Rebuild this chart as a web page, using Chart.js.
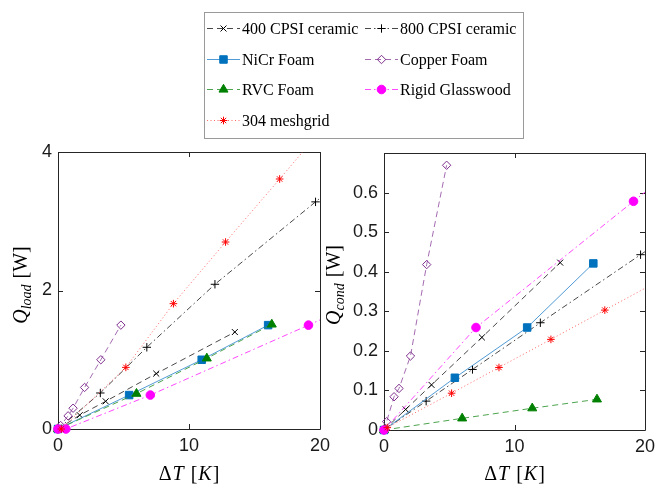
<!DOCTYPE html>
<html>
<head>
<meta charset="utf-8">
<script src="https://cdn.jsdelivr.net/npm/chart.js@4.4.1/dist/chart.umd.min.js"></script>
<style>
  html, body { margin: 0; padding: 0; background: #fff; }
  #wrap { position: relative; width: 664px; height: 485px; }
  #wrap canvas { position: absolute; left: 0; top: 0; }
</style>
</head>
<body>
<div id="wrap">
  <canvas id="loadChart" width="664" height="485"></canvas>
  <canvas id="condChart" width="664" height="485"></canvas>
</div>
<script>
// ---- data (ΔT in K, Q in W)
const DT_400 = [0, 1.66, 3.64, 7.5, 13.5];
const LOAD_400 = [0, 0.20, 0.40, 0.80, 1.40];
const COND_400 = [0, 0.052, 0.114, 0.234, 0.423];

const DT_800 = [0, 3.23, 6.78, 11.98, 19.66, 23];
const LOAD_800 = [0, 0.52, 1.18, 2.09, 3.28, 3.80];
const COND_800 = [0, 0.073, 0.153, 0.271, 0.443, 0.518];

const DT_NICR = [0, 5.43, 10.97, 16.04];
const LOAD_NICR = [0, 0.49, 1.00, 1.50];
const COND_NICR = [0, 0.132, 0.259, 0.421];

const DT_COPPER = [0, 0.2, 0.77, 1.15, 2.03, 3.27, 4.8];
const LOAD_COPPER = [0, 0.05, 0.19, 0.30, 0.60, 1.00, 1.50];
const COND_COPPER = [0, 0.021, 0.084, 0.105, 0.187, 0.418, 0.669];

const DT_RVC = [0, 5.99, 11.36, 16.32];
const LOAD_RVC = [0, 0.51, 1.02, 1.51];
const COND_RVC = [0, 0.0295, 0.055, 0.0775];

const DT_GLASS = [0, 0.6, 7.05, 19.12, 23];
const LOAD_GLASS = [0, 0, 0.49, 1.50, 1.83];
const COND_GLASS = [0, null, 0.259, 0.578, 0.679];

const DT_MESH = [0.25, 5.18, 8.81, 12.79, 16.92, 21];
const LOAD_MESH = [0, 0.89, 1.81, 2.70, 3.61, 4.52];
const COND_MESH = [0.006, 0.093, 0.158, 0.229, 0.303, 0.376];

const X_TICKS = [0, 10, 20];
const LOAD_TICKS = [0, 2, 4];
const COND_TICKS = [0, 0.1, 0.2, 0.3, 0.4, 0.5, 0.6];

const SERIES = [
  { label: '400 CPSI ceramic', dT: DT_400, load: LOAD_400, cond: COND_400 },
  { label: '800 CPSI ceramic', dT: DT_800, load: LOAD_800, cond: COND_800 },
  { label: 'NiCr Foam', dT: DT_NICR, load: LOAD_NICR, cond: COND_NICR },
  { label: 'Copper Foam', dT: DT_COPPER, load: LOAD_COPPER, cond: COND_COPPER },
  { label: 'RVC Foam', dT: DT_RVC, load: LOAD_RVC, cond: COND_RVC },
  { label: 'Rigid Glasswood', dT: DT_GLASS, load: LOAD_GLASS, cond: COND_GLASS },
  { label: '304 meshgrid', dT: DT_MESH, load: LOAD_MESH, cond: COND_MESH }
];

// ---- styles (MATLAB-ish)
const STYLES = [
  { line: 'rgba(0,0,0,0.8)', mark: '#000', dash: [6, 4], style: 'crossRot', r: 4.2, fill: false },
  { line: 'rgba(0,0,0,0.8)', mark: '#000', dash: [6, 3, 1.5, 3], style: 'cross', r: 4.2, fill: false },
  { line: '#3d8fd0', mark: '#0072BD', dash: [], style: 'rect', r: 5.3, fill: true },
  { line: '#9a5aa8', mark: '#7E2F8E', dash: [6, 4], style: 'rectRot', r: 4.2, fill: false },
  { line: '#3a9a3a', mark: '#008000', dash: [6, 4], style: 'triangle', r: 5.2, fill: true },
  { line: '#ff33ff', mark: '#FF00FF', dash: [6, 3, 1.5, 3], style: 'circle', r: 4.3, fill: true },
  { line: '#ff5555', mark: '#FF0000', dash: [1, 2.5], style: 'star', r: 3.8, fill: false }
];

const AXIS_COLOR = '#262626';
const TICK_LEN = 5;
const TICK_FONT = { family: "'Liberation Sans', Arial, sans-serif", size: 18 };
const SERIF = "'Liberation Serif', 'Times New Roman', serif";

function points(xs, ys) {
  return xs.map((x, i) => ({ x, y: ys[i] })).filter(p => p.y !== null);
}

function buildDatasets(key) {
  return SERIES.map((s, i) => {
    const st = STYLES[i];
    return {
      label: s.label,
      data: points(s.dT, s[key]),
      showLine: true,
      borderColor: st.line,
      borderWidth: 0.9,
      borderDash: st.dash,
      pointStyle: st.style,
      pointRadius: st.r,
      pointBorderColor: st.mark,
      pointBorderWidth: 1,
      pointBackgroundColor: st.fill ? st.mark : 'rgba(0,0,0,0)',
      tension: 0,
      order: SERIES.length - i,
      clip: { left: 10, bottom: 10, right: 0, top: 0 }
    };
  });
}

// box + inward ticks on all four sides
const axesFrame = {
  id: 'axesFrame',
  beforeDatasetsDraw(chart) {
    const { ctx, chartArea: a, scales: { x, y } } = chart;
    ctx.save();
    ctx.strokeStyle = AXIS_COLOR;
    ctx.lineWidth = 1;
    ctx.beginPath();
    ctx.rect(a.left + 0.5, a.top + 0.5, a.right - a.left, a.bottom - a.top);
    x.ticks.forEach(t => {
      const px = Math.round(x.getPixelForValue(t.value)) + 0.5;
      ctx.moveTo(px, a.bottom); ctx.lineTo(px, a.bottom - TICK_LEN);
      ctx.moveTo(px, a.top); ctx.lineTo(px, a.top + TICK_LEN);
    });
    y.ticks.forEach(t => {
      const py = Math.round(y.getPixelForValue(t.value)) + 0.5;
      ctx.moveTo(a.left, py); ctx.lineTo(a.left + TICK_LEN, py);
      ctx.moveTo(a.right, py); ctx.lineTo(a.right - TICK_LEN, py);
    });
    ctx.stroke();
    ctx.restore();
  }
};

function drawPieces(ctx, pieces, cx, cy, rotate) {
  ctx.save();
  ctx.translate(cx, cy);
  if (rotate) ctx.rotate(-Math.PI / 2);
  let total = 0;
  pieces.forEach(p => {
    ctx.font = p.font;
    p.w = ctx.measureText(p.text).width + (p.gap || 0);
    total += p.w;
  });
  let x = -total / 2;
  ctx.fillStyle = '#000';
  ctx.textBaseline = 'alphabetic';
  ctx.textAlign = 'left';
  pieces.forEach(p => {
    ctx.font = p.font;
    ctx.fillText(p.text, x, p.dy || 0);
    x += p.w;
  });
  ctx.restore();
}

function qTitle(sub) {
  return [
    { text: 'Q', font: `italic 20px ${SERIF}` },
    { text: sub, font: `italic 14px ${SERIF}`, dy: 4, gap: 6 },
    { text: '[W]', font: `20px ${SERIF}` }
  ];
}
const DT_TITLE = [
  { text: 'Δ', font: `20px ${SERIF}`, gap: 1 },
  { text: 'T', font: `italic 20px ${SERIF}`, gap: 7 },
  { text: '[', font: `20px ${SERIF}`, gap: 1 },
  { text: 'K', font: `italic 20px ${SERIF}`, gap: 1 },
  { text: ']', font: `20px ${SERIF}` }
];

const axisTitles = {
  id: 'axisTitles',
  afterDraw(chart, args, opts) {
    const { ctx, chartArea: a } = chart;
    const cx = (a.left + a.right) / 2;
    drawPieces(ctx, DT_TITLE, cx, 480, false);
    drawPieces(ctx, qTitle(opts.sub), opts.yTitleX, 285, true);
  }
};

// legend drawn on the top canvas
const LEGEND_BOX = { left: 204, top: 12, right: 523, bottom: 138 };
const LEGEND_COLS = [207, 365];
const LEGEND_ROWS = [28, 59, 89, 120];

function drawMarker(ctx, st, x, y) {
  ctx.save();
  ctx.setLineDash([]);
  ctx.strokeStyle = st.mark;
  ctx.fillStyle = st.fill ? st.mark : 'rgba(0,0,0,0)';
  ctx.lineWidth = 1;
  Chart.helpers.drawPoint(ctx, { pointStyle: st.style, radius: st.r, rotation: 0, borderWidth: 1 }, x, y);
  ctx.restore();
}

const legendBox = {
  id: 'legendBox',
  afterDraw(chart) {
    const ctx = chart.ctx;
    ctx.save();
    ctx.fillStyle = '#fff';
    ctx.fillRect(LEGEND_BOX.left, LEGEND_BOX.top, LEGEND_BOX.right - LEGEND_BOX.left, LEGEND_BOX.bottom - LEGEND_BOX.top);
    ctx.strokeStyle = '#9a9a9a';
    ctx.lineWidth = 1;
    ctx.strokeRect(LEGEND_BOX.left + 0.5, LEGEND_BOX.top + 0.5, LEGEND_BOX.right - LEGEND_BOX.left, LEGEND_BOX.bottom - LEGEND_BOX.top);
    SERIES.forEach((s, i) => {
      const st = STYLES[i];
      const x0 = LEGEND_COLS[i % 2];
      const y0 = LEGEND_ROWS[Math.floor(i / 2)] + 0.5;
      ctx.strokeStyle = st.line;
      ctx.lineWidth = 0.9;
      ctx.setLineDash(st.dash);
      ctx.beginPath();
      ctx.moveTo(x0, y0);
      ctx.lineTo(x0 + 33, y0);
      ctx.stroke();
      drawMarker(ctx, st, x0 + 16.5, y0);
      ctx.fillStyle = '#000';
      ctx.font = `16px ${SERIF}`;
      ctx.textBaseline = 'middle';
      ctx.fillText(s.label, x0 + 35, y0 + 1);
    });
    ctx.restore();
  }
};

function makeChart(id, key, yMax, yStep, yTicks, area, yWidth, extraPlugins, sub, yTitleX) {
  const W = 664, H = 485;
  return new Chart(document.getElementById(id), {
    type: 'scatter',
    data: { datasets: buildDatasets(key) },
    options: {
      responsive: false,
      animation: false,
      events: [],
      layout: {
        autoPadding: false,
        padding: { left: area.left - yWidth, top: area.top, right: W - area.right, bottom: 0 }
      },
      plugins: {
        legend: { display: false },
        tooltip: { enabled: false },
        axisTitles: { sub, yTitleX }
      },
      scales: {
        x: {
          type: 'linear', min: 0, max: 20,
          afterBuildTicks: s => { s.ticks = X_TICKS.map(v => ({ value: v })); },
          afterFit: s => { s.height = H - area.bottom; s.paddingLeft = s.paddingRight = 0; },
          ticks: { font: TICK_FONT, color: '#1a1a1a', padding: 6, maxRotation: 0, autoSkip: false },
          grid: { display: false, drawTicks: false },
          border: { display: false }
        },
        y: {
          type: 'linear', min: 0, max: yMax,
          afterBuildTicks: s => { s.ticks = yTicks.map(v => ({ value: v })); },
          afterFit: s => { s.width = yWidth; s.paddingTop = s.paddingBottom = 0; },
          ticks: { font: TICK_FONT, color: '#1a1a1a', padding: 6, autoSkip: false,
                   callback: v => String(v) },
          grid: { display: false, drawTicks: false },
          border: { display: false }
        }
      }
    },
    plugins: [axesFrame, axisTitles].concat(extraPlugins)
  });
}

makeChart('loadChart', 'load', 4, 2, LOAD_TICKS,
  { left: 58, top: 152, right: 320, bottom: 429 }, 58, [], 'load', 27);
makeChart('condChart', 'cond', 0.7, 0.1, COND_TICKS,
  { left: 384, top: 153, right: 645, bottom: 430 }, 46, [legendBox], 'cond', 340);
</script>
</body>
</html>
